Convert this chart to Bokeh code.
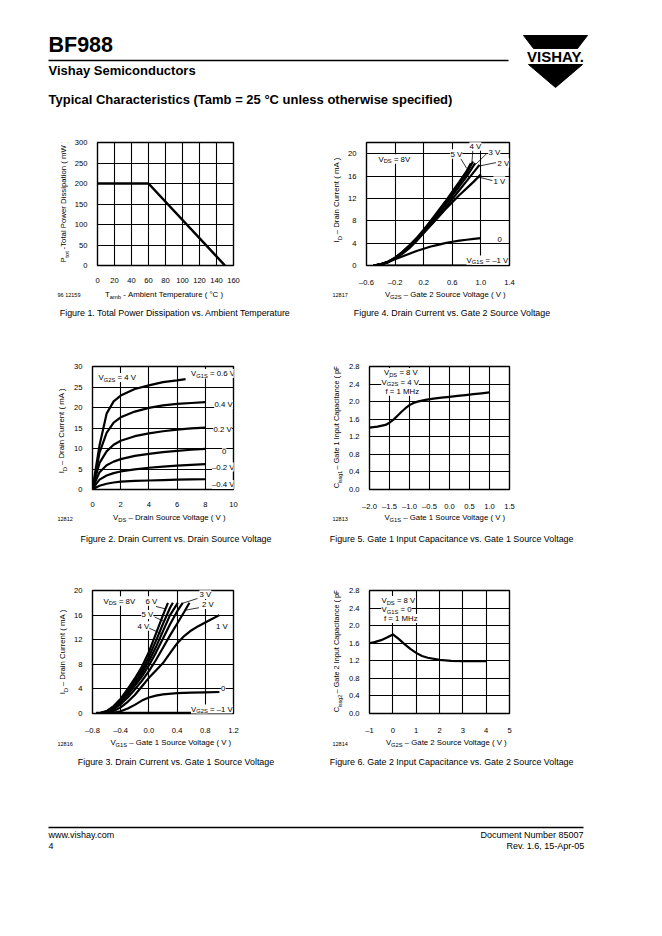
import math
from bokeh.plotting import figure
from bokeh.models import Range1d, FixedTicker, Label, CustomJSTickFormatter, AllLabels
from bokeh.layouts import column, row
from bokeh.embed import file_html
from bokeh.resources import INLINE
from bokeh.core.properties import value

FONT = "Liberation Sans"

# ---------------- data ----------------
# Figure 1: total power dissipation vs ambient temperature
fig1_t_amb = [0, 60, 150]
fig1_p_tot = [200, 200, 0]
fig1_xticks = [0, 20, 40, 60, 80, 100, 120, 140, 160]
fig1_yticks = [0, 50, 100, 150, 200, 250, 300]

# Figure 4: drain current vs gate 2 source voltage (VDS = 8 V), per VG1S
fig4_vg2s = [-0.5, -0.4, -0.3, -0.2, -0.1, 0.0, 0.1, 0.2, 0.3, 0.4, 0.5, 0.6, 0.7, 0.8, 0.9, 1.0]
fig4_id_m1 = [0, 0, 0, 0, 0, 0, 0, 0, 0, 0, 0, 0, 0, 0, 0, 0]
fig4_id_0 = [0, 0.25, 0.6, 1.1, 1.6, 2.1, 2.6, 3.0, 3.4, 3.7, 4.0, 4.25, 4.45, 4.6, 4.75, 4.9]
fig4_id_1 = [0, 0.2, 0.6, 1.3, 2.1, 3.1, 4.4, 5.8, 7.2, 8.6, 10.0, 11.3, 12.6, 13.8, 15.0, 16.3]
fig4_vg2s_2 = [-0.5, -0.4, -0.3, -0.2, -0.1, 0.0, 0.1, 0.2, 0.3, 0.4, 0.5, 0.6, 0.7, 0.8, 0.9, 0.98]
fig4_id_2 = [0, 0.2, 0.6, 1.3, 2.2, 3.3, 4.5, 5.9, 7.3, 8.8, 10.3, 11.9, 13.5, 15.1, 16.7, 18.0]
fig4_vg2s_3 = [-0.5, -0.4, -0.3, -0.2, -0.1, 0.0, 0.1, 0.2, 0.3, 0.4, 0.5, 0.6, 0.7, 0.8, 0.92]
fig4_id_3 = [0, 0.2, 0.6, 1.3, 2.3, 3.4, 4.7, 6.1, 7.6, 9.2, 10.8, 12.5, 14.2, 15.9, 18.3]
fig4_vg2s_4 = [-0.5, -0.4, -0.3, -0.2, -0.1, 0.0, 0.1, 0.2, 0.3, 0.4, 0.5, 0.6, 0.7, 0.8, 0.89]
fig4_id_4 = [0, 0.2, 0.6, 1.4, 2.4, 3.5, 4.8, 6.3, 7.8, 9.5, 11.2, 12.9, 14.7, 16.5, 18.6]
fig4_vg2s_5 = [-0.5, -0.4, -0.3, -0.2, -0.1, 0.0, 0.1, 0.2, 0.3, 0.4, 0.5, 0.6, 0.7, 0.8, 0.86]
fig4_id_5 = [0, 0.2, 0.7, 1.4, 2.4, 3.6, 4.9, 6.4, 8.0, 9.7, 11.4, 13.2, 15.0, 16.9, 18.3]
fig4_xticks = [-0.6, -0.2, 0.2, 0.6, 1.0, 1.4]
fig4_yticks = [0, 4, 8, 12, 16, 20]

# Figure 2: drain current vs drain source voltage (VG2S = 4 V), per VG1S
fig2_vds = [0, 0.25, 0.5, 1, 1.5, 2, 3, 4, 5, 6, 7, 8]
fig2_vds_p06 = [0, 0.25, 0.5, 1, 1.5, 2, 3, 4, 5, 6, 6.6]
fig2_id_p06 = [0, 5.5, 10.8, 18.5, 21.5, 22.9, 24.5, 25.4, 26.2, 26.6, 26.9]
fig2_id_p04 = [0, 4.5, 9.0, 13.8, 16.3, 17.6, 19.0, 19.9, 20.5, 20.9, 21.1, 21.3]
fig2_id_p02 = [0, 3.4, 6.5, 9.3, 10.9, 11.9, 13.0, 13.7, 14.2, 14.6, 14.9, 15.1]
fig2_id_0 = [0, 2.3, 4.2, 5.9, 6.8, 7.4, 8.2, 8.7, 9.1, 9.4, 9.7, 9.9]
fig2_id_m02 = [0, 1.3, 2.4, 3.4, 4.0, 4.4, 4.9, 5.3, 5.6, 5.8, 6.0, 6.2]
fig2_id_m04 = [0, 0.5, 0.9, 1.4, 1.7, 1.9, 2.1, 2.2, 2.3, 2.4, 2.45, 2.5]
fig2_xticks = [0, 2, 4, 6, 8, 10]
fig2_yticks = [0, 5, 10, 15, 20, 25, 30]

# Figure 5: gate 1 input capacitance vs gate 1 source voltage
fig5_vg1s = [-2.0, -1.8, -1.6, -1.5, -1.4, -1.3, -1.2, -1.1, -1.0, -0.9, -0.8, -0.6, -0.4, -0.2, 0.0, 0.2, 0.4, 0.6, 0.8, 1.0]
fig5_cissg1 = [1.41, 1.43, 1.47, 1.52, 1.59, 1.68, 1.77, 1.85, 1.92, 1.97, 2.0, 2.04, 2.07, 2.09, 2.11, 2.13, 2.15, 2.17, 2.19, 2.21]
fig5_xticks = [-2.0, -1.5, -1.0, -0.5, 0.0, 0.5, 1.0, 1.5]
fig5_yticks = [0.0, 0.4, 0.8, 1.2, 1.6, 2.0, 2.4, 2.8]

# Figure 3: drain current vs gate 1 source voltage (VDS = 8 V), per VG2S
fig3_vg1s_6 = [-0.72, -0.6, -0.5, -0.4, -0.3, -0.2, -0.1, 0.0, 0.1, 0.2, 0.27]
fig3_id_6 = [0, 0.4, 1.2, 2.4, 4.0, 5.7, 7.6, 10.0, 13.0, 16.0, 18.0]
fig3_vg1s_5 = [-0.71, -0.6, -0.5, -0.4, -0.3, -0.2, -0.1, 0.0, 0.1, 0.2, 0.3, 0.34]
fig3_id_5 = [0, 0.35, 1.1, 2.2, 3.7, 5.3, 7.0, 9.2, 11.8, 14.6, 17.2, 18.0]
fig3_vg1s_4 = [-0.7, -0.6, -0.5, -0.4, -0.3, -0.2, -0.1, 0.0, 0.1, 0.2, 0.3, 0.41]
fig3_id_4 = [0, 0.3, 1.0, 2.0, 3.4, 4.9, 6.5, 8.5, 10.8, 13.4, 16.0, 18.0]
fig3_vg1s_3 = [-0.69, -0.6, -0.5, -0.4, -0.3, -0.2, -0.1, 0.0, 0.1, 0.2, 0.3, 0.4, 0.48]
fig3_id_3 = [0, 0.25, 0.9, 1.8, 3.1, 4.5, 6.0, 7.8, 9.9, 12.2, 14.5, 16.6, 18.0]
fig3_vg1s_2 = [-0.67, -0.6, -0.5, -0.4, -0.3, -0.2, -0.1, 0.0, 0.1, 0.2, 0.3, 0.4, 0.5, 0.575]
fig3_id_2 = [0, 0.2, 0.7, 1.5, 2.6, 3.9, 5.3, 6.9, 8.7, 10.7, 12.7, 14.6, 16.5, 18.0]
fig3_vg1s_1 = [-0.62, -0.5, -0.4, -0.3, -0.2, -0.1, 0.0, 0.1, 0.2, 0.3, 0.4, 0.5, 0.6, 0.7, 0.8, 0.9, 1.0]
fig3_id_1 = [0, 0.4, 1.0, 1.9, 3.0, 4.4, 5.8, 7.0, 8.2, 9.8, 11.4, 12.6, 13.5, 14.2, 14.8, 15.4, 16.0]
fig3_vg1s_0 = [-0.6, -0.5, -0.4, -0.3, -0.2, -0.1, 0.0, 0.1, 0.2, 0.4, 0.6, 0.8, 1.0]
fig3_id_0 = [0, 0.1, 0.35, 0.8, 1.4, 2.1, 2.6, 2.9, 3.1, 3.3, 3.4, 3.45, 3.5]
fig3_vg1s_m1 = [-0.75, 1.0]
fig3_id_m1 = [0.1, 0.1]
fig3_xticks = [-0.8, -0.4, 0.0, 0.4, 0.8, 1.2]
fig3_yticks = [0, 4, 8, 12, 16, 20]

# Figure 6: gate 2 input capacitance vs gate 2 source voltage
fig6_vg2s = [-1.0, -0.75, -0.5, -0.25, 0.0, 0.25, 0.5, 0.75, 1.0, 1.25, 1.5, 2.0, 2.5, 3.0, 3.5, 4.0]
fig6_cissg2 = [1.60, 1.63, 1.67, 1.73, 1.80, 1.70, 1.58, 1.47, 1.38, 1.31, 1.27, 1.22, 1.20, 1.19, 1.19, 1.19]
fig6_xticks = [-1, 0, 1, 2, 3, 4, 5]
fig6_yticks = [0.0, 0.4, 0.8, 1.2, 1.6, 2.0, 2.4, 2.8]

# ---------------- helpers ----------------
WID = {' ': 278, '\u00a0': 278, '!': 278, '(': 333, ')': 333, '-': 333, '.': 278, ',': 278, '=': 584,
       '\u00b0': 400, '\u2013': 556, 'A': 667, 'B': 667, 'C': 722, 'D': 722, 'E': 667, 'F': 611,
       'G': 778, 'H': 722, 'I': 278, 'M': 833, 'N': 722, 'P': 667, 'S': 667, 'T': 611, 'V': 667,
       'W': 944, 'Y': 667, 'a': 556, 'b': 556, 'c': 500, 'd': 556, 'e': 556, 'f': 278, 'g': 556,
       'h': 556, 'i': 222, 'l': 222, 'm': 833, 'n': 556, 'o': 556, 'p': 556, 'r': 333, 's': 500,
       't': 278, 'u': 556, 'v': 500, 'w': 722, 'y': 500, 'z': 500}
SUB = 0.74
MID = 0.35   # distance from baseline up to the text's middle, in em
LABEL_DROP = 2.5
NBSP = "\u00a0"


def tw(s, size):
    return sum(WID.get(ch, 556) for ch in s) / 1000.0 * size


def prep(parts, size):
    sizes = [size if k == "n" else size * SUB for _, k in parts]
    texts = [t.replace(" ", NBSP) if (t.startswith(" ") or t.endswith(" ")) else t for t, _ in parts]
    widths = [tw(t, s) for t, s in zip(texts, sizes)]
    return texts, sizes, widths


ALIGN = {"left": 0.0, "center": 0.5, "right": 1.0}


def rich(p, geom, x, y, parts, size, align="left", bg=None):
    """In-frame label pieces (screen units relative to frame); x, y = page baseline point.
    Backgrounds are drawn on a lower level than all texts so subscripts are never masked."""
    fl, fb = geom
    texts, sizes, widths = prep(parts, size)
    bx = x - fl - sum(widths) * ALIGN[align]
    by = fb - (y + LABEL_DROP)
    if bg:
        # one full-height background for the whole label (subscripts replaced by spaces)
        filler = ""
        for t, (_, k), w in zip(texts, parts, widths):
            filler += t if k == "n" else NBSP * max(1, round(w / (0.278 * size)))
        p.add_layout(Label(level="annotation", x=bx, y=by, x_units="screen", y_units="screen",
                           text=filler.replace(" ", NBSP), text_font=FONT,
                           text_font_size=f"{size:.2f}px", text_align="left",
                           text_baseline="alphabetic", text_color=bg, background_fill_color=bg))
    off = 0.0
    for t, (_, k), s, w in zip(texts, parts, sizes, widths):
        sh = 0.0 if k == "n" else size * 0.26
        common = dict(x=bx + off, y=by - sh, x_units="screen", y_units="screen", text=t,
                      text_font=FONT, text_font_size=f"{s:.2f}px", text_align="left",
                      text_baseline="alphabetic")
        if bg:
            p.add_layout(Label(level="annotation", text_color=bg, background_fill_color=bg, **common))
        p.add_layout(Label(level="overlay", text_color="black", **common))
        off += w


def rich_page(p, x, y, parts, size, align="left", angle=0.0, bold=False):
    """Text pieces in a page-coordinate figure (y grows downward); x, y = baseline point."""
    texts, sizes, widths = prep(parts, size)
    total = sum(widths)
    ca, sa = math.cos(angle), math.sin(angle)
    f = ALIGN[align]
    bx = x - ca * total * f
    by = y + sa * total * f
    off = 0.0
    for t, (_, k), s, w in zip(texts, parts, sizes, widths):
        sh = (0.0 if k == "n" else size * 0.26) - MID * s
        p.text(x=[bx + ca * off + sa * sh], y=[by - sa * off + ca * sh], text=[t], angle=angle,
               text_font=value(FONT), text_font_size=value(f"{s:.2f}px"),
               text_font_style="bold" if bold else "normal",
               text_align="left", text_baseline="middle", text_color="black")
        off += w


def text_fig(x0, x1, y0, y1, bt=0, bb=0):
    """Page-coordinate figure; its frame spans page rows y0+bt .. y1-bb."""
    p = figure(width=x1 - x0, height=y1 - y0, x_range=Range1d(x0, x1),
               y_range=Range1d(y1 - bb, y0 + bt),
               x_axis_type=None, y_axis_type=None, output_backend="svg", toolbar_location=None,
               min_border_left=0, min_border_right=0, min_border_top=bt, min_border_bottom=bb,
               outline_line_color=None, background_fill_color="white",
               border_fill_color="white")
    return p


def fmt(dec):
    return CustomJSTickFormatter(code=f"""
        const a = Math.abs(tick) < 1e-9 ? 0 : tick;
        const s = Math.abs(a).toFixed({dec});
        return (a < 0 ? '\\u2013' : '') + s;
    """)


# band: (page top, border top, frame height, border bottom, band bottom)
BANDS = [(125, 17, 130, 17, 345), (345, 21, 131, 16, 570), (570, 20, 131, 16, 790)]
# column: (fig page left, fig width, border left, frame width)
COLS = [(71, 260, 19, 143), (345, 317, 20, 144)]
TICK = "7.6px"
LAB = 7.8


def make_chart(col, b, xr, yr, xt, yt, xdec, ydec):
    top, bt, fh, bb, _ = BANDS[b]
    x0, W, lb, fw = COLS[col]
    H = bt + fh + bb
    p = figure(width=W, height=H, x_range=Range1d(*xr), y_range=Range1d(*yr),
               output_backend="svg", toolbar_location=None,
               min_border_left=lb, min_border_right=W - lb - fw,
               min_border_top=bt, min_border_bottom=bb,
               background_fill_color="white", border_fill_color="white")
    p.outline_line_color = "black"
    p.outline_line_width = 1.4
    for ax, ticks, dec, so in ((p.xaxis, xt, xdec, 6), (p.yaxis, yt, ydec, 4)):
        ax.ticker = FixedTicker(ticks=ticks)
        ax.formatter = fmt(dec)
        ax.axis_line_color = None
        ax.major_tick_line_color = None
        ax.minor_tick_line_color = None
        ax.major_label_text_font = FONT
        ax.major_label_text_font_size = TICK
        ax.major_label_text_color = "black"
        ax.major_label_standoff = so
        ax.major_label_policy = AllLabels()
    p.xgrid.ticker = FixedTicker(ticks=xt)
    p.ygrid.ticker = FixedTicker(ticks=yt)
    p.grid.grid_line_color = "black"
    p.grid.grid_line_width = 1.1
    geom = (x0 + lb, top + bt + fh)
    return p, geom


def curve(p, x, y, w=2.2):
    p.line(x, y, line_color="black", line_width=w, line_join="round")


def leader(p, xs, ys):
    p.line(xs, ys, line_color="black", line_width=0.8)


def band_figs(b):
    top, bt, fh, bb, bottom = BANDS[b]
    yb = top + bt + fh + bb
    ylab_l = text_fig(0, COLS[0][0], top, yb, bt, bb)
    ylab_r = text_fig(331, COLS[1][0], top, yb, bt, bb)
    below = text_fig(0, 662, yb, bottom)
    return ylab_l, ylab_r, below


# ---------------- header ----------------
hdr = text_fig(0, 662, 0, 125)
rich_page(hdr, 48, 52, [("BF988", "n")], 21.5, bold=True)
hdr.line([48, 508], [60, 60], line_color="black", line_width=1.3)
rich_page(hdr, 48, 75, [("Vishay Semiconductors", "n")], 13, bold=True)
rich_page(hdr, 48, 104, [("Typical Characteristics (Tamb = 25 \u00b0C unless otherwise specified)", "n")], 13, bold=True)
hdr.patch([523, 587, 577, 533], [35, 35, 48, 48], color="black")
hdr.patch([528, 582, 555], [64, 64, 87], color="black")
hdr.text(x=[555], y=[61.5 - MID * 15], text=["VISHAY."], text_font=value(FONT), text_font_size=value("15px"),
         text_font_style="bold", text_align="center", text_baseline="middle", text_color="black")

# ---------------- band 1: Figures 1 and 4 ----------------
yl1, yr1, bl1 = band_figs(0)

f1, g1 = make_chart(0, 0, (0, 160), (0, 300), fig1_xticks, fig1_yticks, 0, 0)
curve(f1, fig1_t_amb, fig1_p_tot, 2.5)
rich_page(yl1, 66, 207, [("P", "n"), ("tot", "s"), (" -Total Power Dissipation ( mW )", "n")], LAB, "center", math.pi / 2)
rich_page(bl1, 164, 296.5, [("T", "n"), ("amb", "s"), (" - Ambient Temperature ( \u00b0C )", "n")], LAB, "center")
rich_page(bl1, 57, 296.5, [("96 12159", "n")], 5.5)
rich_page(bl1, 176, 316, [("Figure 1. Total Power Dissipation vs. Ambient Temperature", "n")], 8.9, "center")

f4, g4 = make_chart(1, 0, (-0.6, 1.4), (0, 22), fig4_xticks, fig4_yticks, 1, 0)
curve(f4, fig4_vg2s, fig4_id_m1)
curve(f4, fig4_vg2s, fig4_id_0)
curve(f4, fig4_vg2s, fig4_id_1)
curve(f4, fig4_vg2s_2, fig4_id_2)
curve(f4, fig4_vg2s_3, fig4_id_3)
curve(f4, fig4_vg2s_4, fig4_id_4)
curve(f4, fig4_vg2s_5, fig4_id_5)
leader(f4, [0.71, 0.80], [19.3, 17.4])
leader(f4, [0.887, 0.875], [20.6, 18.5])
leader(f4, [1.08, 0.92], [20.0, 18.0])
leader(f4, [1.21, 0.98], [18.4, 17.8])
leader(f4, [1.16, 0.97], [15.2, 15.8])
rich_page(yr1, 339, 205, [("I", "n"), ("D", "s"), (" \u2013 Drain Current ( mA )", "n")], LAB, "center", math.pi / 2)
rich_page(bl1, 445, 296.5, [("V", "n"), ("G2S", "s"), (" \u2013 Gate 2 Source Voltage ( V )", "n")], LAB, "center")
rich_page(bl1, 332, 296.5, [("12817", "n")], 5.5)
rich_page(bl1, 452, 316, [("Figure 4. Drain Current vs. Gate 2 Source Voltage", "n")], 8.9, "center")
rich(f4, g4, 377, 163, [("V", "n"), ("DS", "s"), (" = 8V", "n")], LAB, bg="white")
rich(f4, g4, 468, 150, [("4 V", "n")], LAB, bg="white")
rich(f4, g4, 449, 158, [("5 V", "n")], LAB, bg="white")
rich(f4, g4, 487, 156, [("3 V", "n")], LAB, bg="white")
rich(f4, g4, 496, 167, [("2 V", "n")], LAB, bg="white")
rich(f4, g4, 492, 185, [("1 V", "n")], LAB, bg="white")
rich(f4, g4, 496, 243, [("0", "n")], LAB, bg="white")
rich(f4, g4, 465, 264, [("V", "n"), ("G1S", "s"), (" = \u20131 V", "n")], LAB, bg="white")

# ---------------- band 2: Figures 2 and 5 ----------------
yl2, yr2, bl2 = band_figs(1)

f2, g2 = make_chart(0, 1, (0, 10), (0, 30), fig2_xticks, fig2_yticks, 0, 0)
curve(f2, fig2_vds_p06, fig2_id_p06)
curve(f2, fig2_vds, fig2_id_p04)
curve(f2, fig2_vds, fig2_id_p02)
curve(f2, fig2_vds, fig2_id_0)
curve(f2, fig2_vds, fig2_id_m02)
curve(f2, fig2_vds, fig2_id_m04)
rich_page(yl2, 64, 437, [("I", "n"), ("D", "s"), (" \u2013 Drain Current ( mA )", "n")], LAB, "center", math.pi / 2)
rich_page(bl2, 169, 519.5, [("V", "n"), ("DS", "s"), (" \u2013 Drain Source Voltage ( V )", "n")], LAB, "center")
rich_page(bl2, 57, 520, [("12812", "n")], 5.5)
rich_page(bl2, 176, 541.5, [("Figure 2. Drain Current vs. Drain Source Voltage", "n")], 8.9, "center")
rich(f2, g2, 96, 382.5, [("V", "n"), ("G2S", "s"), (" = 4 V", "n")], LAB, bg="white")
rich(f2, g2, 188.5, 378.5, [("V", "n"), ("G1S", "s"), (" = 0.6 V", "n")], LAB, bg="white")
rich(f2, g2, 212, 409.5, [("0.4 V", "n")], LAB, bg="white")
rich(f2, g2, 211, 434.5, [("0.2 V", "n")], LAB, bg="white")
rich(f2, g2, 219.5, 456, [("0", "n")], LAB, bg="white")
rich(f2, g2, 209.5, 472, [("\u20130.2 V", "n")], LAB, bg="white")
rich(f2, g2, 209.5, 489.5, [("\u20130.4 V", "n")], LAB, bg="white")

f5, g5 = make_chart(1, 1, (-2.0, 1.5), (0, 2.8), fig5_xticks, fig5_yticks, 1, 1)
curve(f5, fig5_vg1s, fig5_cissg1)
rich_page(yr2, 339, 431.5, [("C", "n"), ("issg1", "s"), (" \u2013 Gate 1 Input Capacitance ( pF )", "n")], 7.3, "center", math.pi / 2)
rich_page(bl2, 444.5, 519.5, [("V", "n"), ("G1S", "s"), (" \u2013 Gate 1 Source Voltage ( V )", "n")], LAB, "center")
rich_page(bl2, 332, 520, [("12813", "n")], 5.5)
rich_page(bl2, 451.7, 541.5, [("Figure 5. Gate 1 Input Capacitance vs. Gate 1 Source Voltage", "n")], 8.9, "center")
rich(f5, g5, 379.5, 377.5, [("V", "n"), ("DS", "s"), (" = 8 V", "n")], LAB, bg="white")
rich(f5, g5, 377, 387, [("V", "n"), ("G2S", "s"), (" = 4 V", "n")], LAB, bg="white")
rich(f5, g5, 381, 396, [("f = 1 MHz", "n")], LAB, bg="white")

# ---------------- band 3: Figures 3 and 6 ----------------
yl3, yr3, bl3 = band_figs(2)

f3, g3 = make_chart(0, 2, (-0.8, 1.2), (0, 20), fig3_xticks, fig3_yticks, 1, 0)
curve(f3, fig3_vg1s_m1, fig3_id_m1)
curve(f3, fig3_vg1s_0, fig3_id_0)
curve(f3, fig3_vg1s_1, fig3_id_1)
curve(f3, fig3_vg1s_2, fig3_id_2)
curve(f3, fig3_vg1s_3, fig3_id_3)
curve(f3, fig3_vg1s_4, fig3_id_4)
curve(f3, fig3_vg1s_5, fig3_id_5)
curve(f3, fig3_vg1s_6, fig3_id_6)
leader(f3, [0.10, 0.24], [17.4, 17.0])
leader(f3, [0.08, 0.21], [15.7, 15.0])
leader(f3, [0.0, 0.17], [13.9, 13.0])
leader(f3, [0.69, 0.47], [18.7, 17.9])
leader(f3, [0.71, 0.52], [17.2, 16.8])
rich_page(yl3, 65, 658, [("I", "n"), ("D", "s"), (" \u2013 Drain Current ( mA )", "n")], LAB, "center", math.pi / 2)
rich_page(bl3, 170.5, 744.3, [("V", "n"), ("G1S", "s"), (" \u2013 Gate 1 Source Voltage ( V )", "n")], LAB, "center")
rich_page(bl3, 57, 745, [("12816", "n")], 5.5)
rich_page(bl3, 176, 765, [("Figure 3. Drain Current vs. Gate 1 Source Voltage", "n")], 8.9, "center")
rich(f3, g3, 101, 606, [("V", "n"), ("DS", "s"), (" = 8V", "n")], LAB, bg="white")
rich(f3, g3, 143, 606, [("6 V", "n")], LAB, bg="white")
rich(f3, g3, 197, 599.5, [("3 V", "n")], LAB, bg="white")
rich(f3, g3, 199.5, 609.5, [("2 V", "n")], LAB, bg="white")
rich(f3, g3, 139, 619.5, [("5 V", "n")], LAB, bg="white")
rich(f3, g3, 135, 631, [("4 V", "n")], LAB, bg="white")
rich(f3, g3, 213.5, 631, [("1 V", "n")], LAB, bg="white")
rich(f3, g3, 218.5, 693.5, [("0", "n")], LAB, bg="white")
rich(f3, g3, 188.5, 714, [("V", "n"), ("G2S", "s"), (" = \u20131 V", "n")], LAB, bg="white")

f6, g6 = make_chart(1, 2, (-1, 5), (0, 2.8), fig6_xticks, fig6_yticks, 0, 1)
curve(f6, fig6_vg2s, fig6_cissg2)
rich_page(yr3, 339, 655.5, [("C", "n"), ("issg2", "s"), (" \u2013 Gate 2 Input Capacitance ( pF )", "n")], 7.3, "center", math.pi / 2)
rich_page(bl3, 446, 744.3, [("V", "n"), ("G2S", "s"), (" \u2013 Gate 2 Source Voltage ( V )", "n")], LAB, "center")
rich_page(bl3, 332, 745, [("12814", "n")], 5.5)
rich_page(bl3, 451.7, 765, [("Figure 6. Gate 2 Input Capacitance vs. Gate 2 Source Voltage", "n")], 8.9, "center")
rich(f6, g6, 377, 605.5, [("V", "n"), ("DS", "s"), (" = 8 V", "n")], LAB, bg="white")
rich(f6, g6, 377, 614.5, [("V", "n"), ("G1S", "s"), (" = 0", "n")], LAB, bg="white")
rich(f6, g6, 379.5, 623.5, [("f = 1 MHz", "n")], LAB, bg="white")

# ---------------- footer ----------------
ftr = text_fig(0, 662, 790, 930)
ftr.line([48, 583], [827, 827], line_color="black", line_width=1.3)
rich_page(ftr, 48, 837.5, [("www.vishay.com", "n")], 9)
rich_page(ftr, 48, 849, [("4", "n")], 9)
rich_page(ftr, 583, 837.5, [("Document Number 85007", "n")], 9, "right")
rich_page(ftr, 583, 849, [("Rev. 1.6, 15-Apr-05", "n")], 9, "right")

layout = column(
    hdr,
    row(yl1, f1, yr1, f4), bl1,
    row(yl2, f2, yr2, f5), bl2,
    row(yl3, f3, yr3, f6), bl3,
    ftr,
)
open("out.html", "w").write(file_html(layout, INLINE, "BF988"))
